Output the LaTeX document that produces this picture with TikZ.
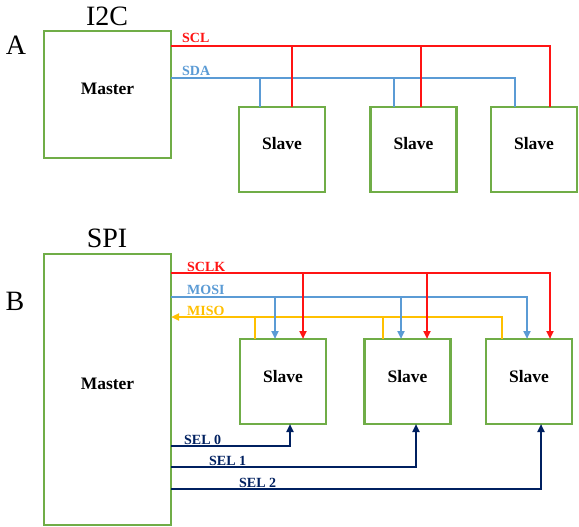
\documentclass[tikz,border=0pt]{standalone}
\usepackage{fontspec}
\setmainfont{Liberation Serif}
\usetikzlibrary{arrows.meta}
\definecolor{bgreen}{RGB}{112,173,71}
\definecolor{sred}{RGB}{255,20,20}
\definecolor{sblue}{RGB}{91,155,213}
\definecolor{syel}{RGB}{255,192,0}
\definecolor{snavy}{RGB}{0,32,96}
\tikzset{
  box/.style={draw=bgreen,line width=2.4pt,inner sep=0pt,fill=white},
  boxtext/.style={font=\fontsize{17.5}{20}\selectfont\bfseries,inner sep=0pt},
  sig/.style={line width=2.3pt},
  siglab/.style={font=\fontsize{14}{16}\selectfont\bfseries,inner sep=0pt,anchor=base west},
  big/.style={font=\fontsize{28}{30}\selectfont,inner sep=0pt},
  tip/.style={-{Triangle[length=8pt,width=7pt]}}
}
\begin{document}
\begin{tikzpicture}[x=1pt,y=-1pt]
\useasboundingbox[fill=white] (0,0) rectangle (579,527);
% ---------------- I2C ----------------
\node[big] (lA) at (16,45) {A};
\node[big] (lI2C) at (107,16.5) {I2C};
\node[box,minimum width=127pt,minimum height=127pt] (m1) at (107.5,94.5) {};
\node[boxtext] (m1t) at ([yshift=5.5pt]m1.center) {Master};
\node[box,minimum width=86pt,minimum height=85pt] (s1a) at (282,149.5) {};
\node[box,minimum width=86pt,minimum height=85pt] (s2a) at (413.5,149.5) {};
\node[box,minimum width=86pt,minimum height=85pt] (s3a) at (534,149.5) {};
\node[boxtext] (s1at) at ([yshift=6pt]s1a.center) {Slave};
\node[boxtext] (s2at) at ([yshift=6pt]s2a.center) {Slave};
\node[boxtext] (s3at) at ([yshift=6pt]s3a.center) {Slave};
\coordinate (sclA) at (171,46);
\coordinate (sdaA) at (171,78);
\coordinate (c1) at (292,107);
\coordinate (c2) at (421,107);
\coordinate (c3) at (550,107);
\coordinate (d1) at (260,107);
\coordinate (d2) at (394,107);
\coordinate (d3) at (515,107);
\draw[sig,sblue] (sdaA) -- (sdaA -| d3) -- (d3);
\draw[sig,sblue] (d1 |- sdaA) -- (d1);
\draw[sig,sblue] (d2 |- sdaA) -- (d2);
\draw[sig,sred] (sclA) -- (sclA -| c3) -- (c3);
\draw[sig,sred] (c1 |- sclA) -- (c1);
\draw[sig,sred] (c2 |- sclA) -- (c2);
\node[siglab,text=sred] (tscl) at (182,42.5) {SCL};
\node[siglab,text=sblue] (tsda) at (182,76) {SDA};
% ---------------- SPI ----------------
\node[big] (lB) at (15,301) {B};
\node[big] (lSPI) at (107,238) {SPI};
\node[box,minimum width=127pt,minimum height=271pt] (m2) at (107.5,389.5) {};
\node[boxtext] (m2t) at ([yshift=5.5pt]m2.center) {Master};
\node[box,minimum width=86pt,minimum height=85pt] (s1b) at (283,381.5) {};
\node[box,minimum width=86pt,minimum height=85pt] (s2b) at (407.5,381.5) {};
\node[box,minimum width=86pt,minimum height=85pt] (s3b) at (529,381.5) {};
\node[boxtext] (s1bt) at ([yshift=4.5pt]s1b.center) {Slave};
\node[boxtext] (s2bt) at ([yshift=4.5pt]s2b.center) {Slave};
\node[boxtext] (s3bt) at ([yshift=4.5pt]s3b.center) {Slave};
\coordinate (sclkA) at (171,273);
\coordinate (mosiA) at (171,297);
\coordinate (misoA) at (171,317);
\coordinate (k1) at (303,339);
\coordinate (k2) at (427,339);
\coordinate (k3) at (550,339);
\coordinate (o1) at (275,339);
\coordinate (o2) at (401,339);
\coordinate (o3) at (527,339);
\coordinate (i1) at (255,339);
\coordinate (i2) at (383,339);
\coordinate (i3) at (502,339);
\coordinate (e0) at (171,446);
\coordinate (e1) at (171,467);
\coordinate (e2) at (171,489);
\coordinate (b1) at (290,424);
\coordinate (b2) at (416,424);
\coordinate (b3) at (541,424);
% MISO
\draw[sig,syel,tip] (i3) -- (i3 |- misoA) -- (misoA);
\draw[sig,syel] (i1) -- (i1 |- misoA);
\draw[sig,syel] (i2) -- (i2 |- misoA);
% MOSI
\draw[sig,sblue,tip] (mosiA) -- (mosiA -| o3) -- (o3);
\draw[sig,sblue,tip] (o1 |- mosiA) -- (o1);
\draw[sig,sblue,tip] (o2 |- mosiA) -- (o2);
% SCLK
\draw[sig,sred,tip] (sclkA) -- (sclkA -| k3) -- (k3);
\draw[sig,sred,tip] (k1 |- sclkA) -- (k1);
\draw[sig,sred,tip] (k2 |- sclkA) -- (k2);
% SEL
\draw[sig,snavy,tip] (e0) -- (e0 -| b1) -- (b1);
\draw[sig,snavy,tip] (e1) -- (e1 -| b2) -- (b2);
\draw[sig,snavy,tip] (e2) -- (e2 -| b3) -- (b3);
\node[siglab,text=sred] (tsclk) at (187,271.5) {SCLK};
\node[siglab,text=sblue] (tmosi) at (187,294.5) {MOSI};
\node[siglab,text=syel] (tmiso) at (187,315) {MISO};
\node[siglab,text=snavy] (tsel0) at (184,444) {SEL 0};
\node[siglab,text=snavy] (tsel1) at (209,465) {SEL 1};
\node[siglab,text=snavy] (tsel2) at (239,487.5) {SEL 2};
\end{tikzpicture}
\end{document}
